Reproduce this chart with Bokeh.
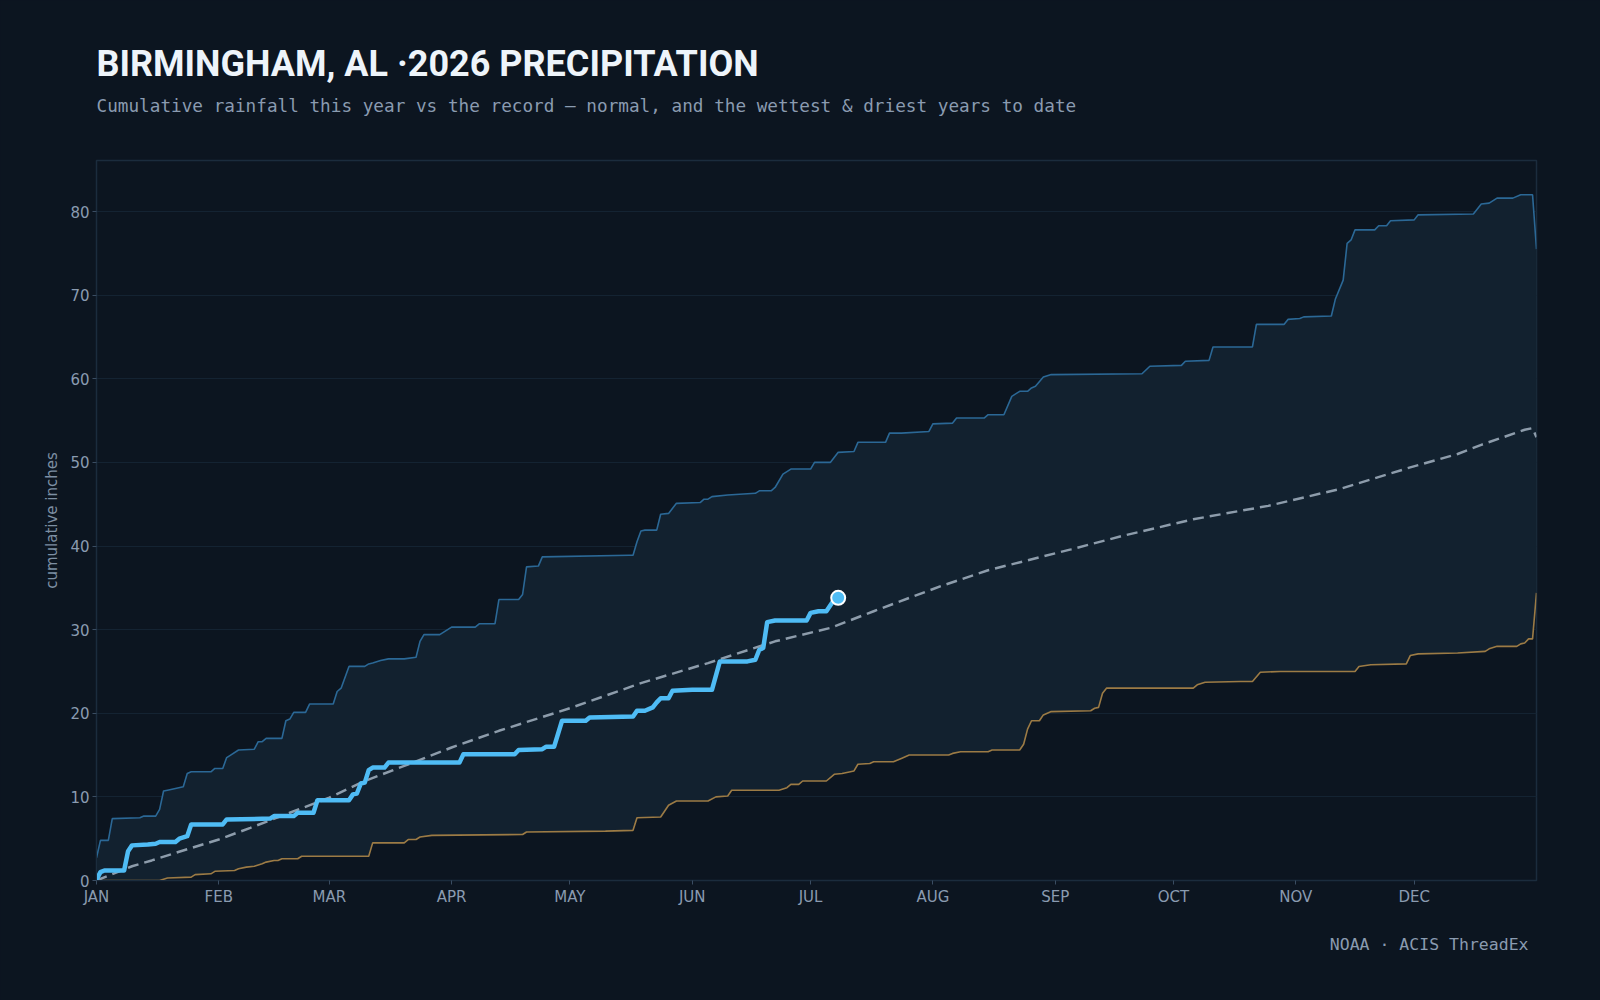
from bokeh.plotting import figure
from bokeh.models import Range1d, FixedTicker, Title
from bokeh.embed import file_html
from bokeh.resources import INLINE

# ---------------- data ----------------
MONTH_START_DAY = [0, 31, 59, 90, 120, 151, 181, 212, 243, 273, 304, 334]
MONTH_LABELS = ["JAN", "FEB", "MAR", "APR", "MAY", "JUN",
                "JUL", "AUG", "SEP", "OCT", "NOV", "DEC"]
Y_TICKS = [0, 10, 20, 30, 40, 50, 60, 70, 80]

# wettest year to date (cumulative inches by day of year)
WET_DAY = [0, 1, 3, 4, 11, 12, 15, 16, 17, 18, 20, 22, 23, 24, 29, 30, 32, 33, 34, 36,
           40, 41, 42, 43, 47, 48, 49, 50, 53, 54, 60, 61, 62, 64, 68, 69, 70, 72, 74, 78,
           81, 82, 83, 87, 88, 90, 96, 97, 101, 102, 107, 108, 109, 112, 113, 135, 136, 137,
           138, 139, 142, 143, 145, 147, 153, 154, 155, 156, 160, 167, 168, 171, 172, 174,
           176, 181, 182, 186, 188, 192, 193, 200, 201, 204, 211, 212, 217, 218, 225, 226,
           230, 232, 234, 236, 237, 238, 240, 242, 265, 267, 275, 276, 282, 283, 293, 294,
           301, 302, 305, 306, 313, 314, 316, 317, 318, 319, 324, 325, 327, 328, 334, 335,
           349, 351, 353, 355, 359, 361, 364, 365]
WET_IN = [2.7, 4.8, 4.8, 7.4, 7.5, 7.7, 7.7, 8.5, 10.7, 10.8, 11.0, 11.2, 12.8, 13.0, 13.0,
          13.4, 13.4, 14.7, 15.0, 15.6, 15.7, 16.6, 16.6, 17.0, 17.0, 19.1, 19.3, 20.1, 20.1,
          21.1, 21.1, 22.6, 23.0, 25.6, 25.6, 25.9, 26.0, 26.3, 26.5, 26.5, 26.7, 28.6, 29.4,
          29.4, 29.7, 30.3, 30.3, 30.7, 30.7, 33.6, 33.6, 34.2, 37.5, 37.6, 38.7, 38.9, 38.9,
          40.5, 41.8, 41.9, 41.9, 43.8, 43.9, 45.1, 45.2, 45.6, 45.6, 45.9, 46.1, 46.3, 46.6,
          46.6, 47.0, 48.6, 49.2, 49.2, 50.0, 50.0, 51.2, 51.3, 52.4, 52.4, 53.5, 53.5, 53.7,
          54.6, 54.7, 55.3, 55.3, 55.7, 55.7, 57.9, 58.5, 58.5, 58.9, 59.1, 60.2, 60.5, 60.6,
          61.5, 61.6, 62.1, 62.2, 63.8, 63.8, 66.5, 66.5, 67.1, 67.2, 67.4, 67.5, 69.5, 71.8,
          76.2, 76.6, 77.8, 77.8, 78.3, 78.3, 78.9, 79.0, 79.6, 79.7, 80.9, 81.0, 81.6, 81.6,
          82.0, 82.0, 75.5]

# driest year to date
DRY_DAY = [0, 16, 18, 24, 25, 29, 30, 35, 36, 38, 40, 42, 43, 45, 46, 47, 51, 52, 69, 70,
           78, 79, 81, 82, 85, 108, 109, 129, 136, 137, 143, 145, 147, 155, 157, 160, 161,
           173, 175, 176, 178, 179, 185, 187, 189, 192, 193, 196, 197, 202, 204, 206, 216,
           217, 219, 226, 227, 234, 235, 236, 237, 239, 240, 242, 252, 253, 254, 255, 256,
           278, 279, 281, 290, 293, 295, 300, 319, 320, 323, 332, 333, 335, 345, 352, 353,
           355, 360, 361, 362, 363, 364, 365]
DRY_IN = [0.0, 0.0, 0.3, 0.4, 0.7, 0.8, 1.1, 1.2, 1.4, 1.6, 1.7, 2.0, 2.2, 2.4, 2.4, 2.6,
          2.6, 2.9, 2.9, 4.5, 4.5, 4.9, 4.9, 5.2, 5.4, 5.5, 5.8, 5.9, 6.0, 7.5, 7.6, 9.0, 9.5,
          9.5, 10.0, 10.1, 10.8, 10.8, 11.1, 11.5, 11.5, 11.9, 11.9, 12.7, 12.8, 13.1, 13.9,
          14.0, 14.2, 14.2, 14.6, 15.0, 15.0, 15.2, 15.4, 15.4, 15.6, 15.6, 16.3, 18.1, 19.1,
          19.1, 19.8, 20.2, 20.3, 20.6, 20.7, 22.4, 23.0, 23.0, 23.4, 23.7, 23.8, 23.8, 24.9,
          25.0, 25.0, 25.6, 25.8, 25.9, 26.9, 27.1, 27.2, 27.4, 27.7, 28.0, 28.0, 28.3, 28.4,
          28.9, 28.9, 34.4]

# normal (average) cumulative precipitation
NORMAL_DAY = [0, 9, 14, 20, 31, 39, 49, 59, 68, 78, 90, 102, 120, 138, 155, 172, 186, 197,
              214, 226, 247, 260, 278, 297, 315, 333, 345, 351, 362, 364, 365]
NORMAL_IN = [0.0, 1.7, 2.4, 3.3, 4.9, 6.3, 8.1, 9.9, 11.9, 13.7, 15.9, 17.9, 20.6, 23.6,
             26.0, 28.6, 30.2, 32.2, 35.2, 37.1, 39.6, 41.2, 43.2, 44.8, 46.8, 49.4, 51.0,
             52.1, 53.9, 54.1, 53.0]

# 2026 to date
YEAR_DAY = [0, 1, 2, 7, 8, 9, 13, 15, 16, 20, 21, 23, 24, 32, 33, 44, 45, 50, 51, 55, 56,
            64, 65, 66, 67, 68, 69, 70, 73, 74, 92, 93, 106, 107, 113, 114, 116, 118, 124,
            125, 136, 137, 139, 141, 142, 143, 145, 146, 151, 156, 158, 165, 167, 168, 169,
            170, 172, 180, 181, 183, 185, 187, 188]
YEAR_IN = [0.1, 1.0, 1.2, 1.2, 3.5, 4.2, 4.3, 4.4, 4.6, 4.6, 5.0, 5.3, 6.7, 6.7, 7.3, 7.4,
           7.7, 7.7, 8.1, 8.1, 9.6, 9.6, 10.3, 10.4, 11.6, 11.7, 13.2, 13.5, 13.5, 14.1, 14.1,
           15.1, 15.1, 15.6, 15.7, 16.0, 16.0, 19.1, 19.1, 19.5, 19.6, 20.3, 20.3, 20.7, 21.3,
           21.8, 21.8, 22.7, 22.8, 22.8, 26.2, 26.2, 26.4, 27.6, 27.8, 30.9, 31.1, 31.1, 32.0,
           32.2, 32.2, 33.6, 33.8]

TITLE = "BIRMINGHAM, AL \u00b72026 PRECIPITATION"
SUBTITLE = ("Cumulative rainfall this year vs the record \u2014 normal, "
            "and the wettest & driest years to date")
SOURCE = "NOAA \u00b7 ACIS ThreadEx"

# ---------------- style ----------------
BG = "#0c1520"
BAND = "#12212f"
FRAME = "#1b2c3d"
GRID = "#142332"
TICK_TXT = "#8a9bb0"
WET_C = "#2b6896"
DRY_C = "#9c7b45"
NORM_C = "#8d9cab"
YEAR_C = "#4fbcf5"

p = figure(width=1600, height=1000, output_backend="svg", toolbar_location=None,
           x_range=Range1d(0, 365), y_range=Range1d(0, max(WET_IN) * 1.05),
           min_border_left=96, min_border_right=64, min_border_top=160,
           min_border_bottom=120)
p.background_fill_color = BG
p.border_fill_color = BG
p.outline_line_color = FRAME
p.outline_line_width = 1.5

# band between driest and wettest
band_x = WET_DAY + DRY_DAY[::-1]
band_y = WET_IN + DRY_IN[::-1]
p.patch(band_x, band_y, fill_color=BAND, line_color=None)

p.line(WET_DAY, WET_IN, line_color=WET_C, line_width=1.6)
p.line(DRY_DAY, DRY_IN, line_color=DRY_C, line_width=1.6)
p.line(NORMAL_DAY, NORMAL_IN, line_color=NORM_C, line_width=2.5, line_dash="11 6")
p.line(YEAR_DAY, YEAR_IN, line_color=YEAR_C, line_width=4.5, line_join="round",
       line_cap="round")
p.scatter([YEAR_DAY[-1]], [YEAR_IN[-1]], size=14, fill_color=YEAR_C,
          line_color="#ffffff", line_width=2)

# axes
p.xaxis.ticker = FixedTicker(ticks=MONTH_START_DAY)
p.xaxis.major_label_overrides = {d: m for d, m in zip(MONTH_START_DAY, MONTH_LABELS)}
p.yaxis.ticker = FixedTicker(ticks=Y_TICKS)
for ax in (p.xaxis[0], p.yaxis[0]):
    ax.axis_line_color = FRAME
    ax.major_tick_line_color = "#3a4d62"
    ax.major_tick_in = 0
    ax.major_tick_out = 4
    ax.minor_tick_line_color = None
    ax.major_label_text_color = TICK_TXT
    ax.major_label_text_font = "DejaVu Sans"
    ax.major_label_text_font_size = "15px"
p.xaxis.major_label_standoff = 3
p.yaxis.major_label_standoff = 3
p.yaxis.axis_label = "cumulative inches"
p.yaxis.axis_label_text_font = "DejaVu Sans"
p.yaxis.axis_label_text_font_size = "15px"
p.yaxis.axis_label_text_font_style = "normal"
p.yaxis.axis_label_text_color = "#7d8fa3"
p.yaxis.axis_label_standoff = 6

p.xgrid.grid_line_color = None
p.ygrid.grid_line_color = GRID
p.ygrid.grid_line_width = 1

# titles & source (first added "above" sits nearest the frame)
p.add_layout(Title(text=" ", align="left", text_font_size="1px", standoff=37,
                   text_color=BG), "above")
p.add_layout(Title(text=SUBTITLE, align="left", text_font="DejaVu Sans Mono",
                   text_font_size="17.7px", text_font_style="normal",
                   text_color="#8a9bb0", standoff=10), "above")
p.add_layout(Title(text=TITLE, align="left", text_font="Roboto",
                   text_font_size="36px", text_font_style="bold",
                   text_color="#eef4fa", standoff=7), "above")
p.add_layout(Title(text=SOURCE, align="right", text_font="DejaVu Sans Mono",
                   text_font_size="16.5px", text_font_style="normal",
                   text_color="#8a9bb0", offset=8, standoff=48), "below")

html = file_html(p, INLINE, title="Birmingham precipitation")
html = html.replace("</head>",
                    "<style>html,body{margin:0;padding:0;background:%s;}</style></head>" % BG, 1)
open("out.html", "w").write(html)
